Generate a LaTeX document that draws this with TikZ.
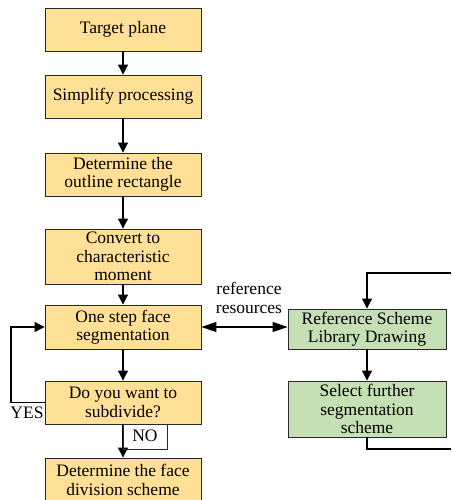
\documentclass[tikz,border=0pt]{standalone}
\usepackage{fontspec}
\setmainfont{Liberation Serif}
\usetikzlibrary{arrows.meta}
\definecolor{ybox}{RGB}{255,224,150}
\definecolor{gbox}{RGB}{197,224,180}
\definecolor{edge}{RGB}{40,40,40}
\begin{document}
\begin{tikzpicture}[x=1pt,y=-1pt,
  every node/.style={font=\fontsize{17.5}{18.5}\selectfont, inner sep=0pt, align=center},
  ybox/.style={draw=edge, line width=0.9pt, fill=ybox, minimum width=156pt},
  gbox/.style={draw=edge, line width=0.9pt, fill=gbox, minimum width=158pt},
  arr/.style={line width=1.1pt, -{Triangle[width=10pt,length=10pt]}},
  ln/.style={line width=1.1pt},
  wide/.style={line width=1.1pt, {Triangle[width=10pt,length=15pt]}-{Triangle[width=10pt,length=15pt]}}]
\useasboundingbox (0,0) rectangle (451,500);
\node[ybox, minimum height=43pt] (b1) at (123,29.5) {Target plane};
\node[ybox, minimum height=43pt] (b2) at (123,96.5) {Simplify processing};
\node[ybox, minimum height=43pt] (b3) at (123,174.5) {Determine the\\outline rectangle};
\node[ybox, minimum height=55pt] (b4) at (123,256.5) {Convert to\\characteristic\\moment};
\node[ybox, minimum height=44pt] (b5) at (123,327) {One step face\\segmentation};
\node[ybox, minimum height=43pt] (b6) at (123,402.5) {Do you want to\\subdivide?};
\node[ybox, minimum height=44pt] (b7) at (123,480) {Determine the face\\division scheme};
\node[gbox, minimum height=40pt] (g1) at (367,329) {Reference Scheme\\Library Drawing};
\node[gbox, minimum height=56pt] (g2) at (367,409) {Select further\\segmentation\\scheme};
\draw[arr] (b1) -- (b2);
\draw[arr] (b2) -- (b3);
\draw[arr] (b3) -- (b4);
\draw[arr] (b4) -- (b5);
\draw[arr] (b5) -- (b6);
\draw[arr] (b6) -- (b7);
\draw[arr] (g1) -- (g2);
\draw[wide] (b5.east) -- (b5.east -| g1.west);
\node (ref) at (249,298) {reference\\resources};
\coordinate (yl) at (11,0);
\draw[arr] (b6.west) -- (b6.west -| yl) -- (b5.west -| yl) -- (b5.west);
\node (yes) at (27,413) {YES};
\coordinate (nor) at (167,449);
\draw[line width=0.9pt, draw=edge] (b6.south) |- (nor) -- (nor |- b6.south);
\node (no) at (145,436) {NO};
\coordinate (rt) at (451,273);
\coordinate (rb) at (451,449);
\draw[arr] (rt) -- (rt -| g1.north) -- (g1.north);
\draw[ln] (g2.south) -- (g2.south |- rb) -- (rb);
\end{tikzpicture}
\end{document}
